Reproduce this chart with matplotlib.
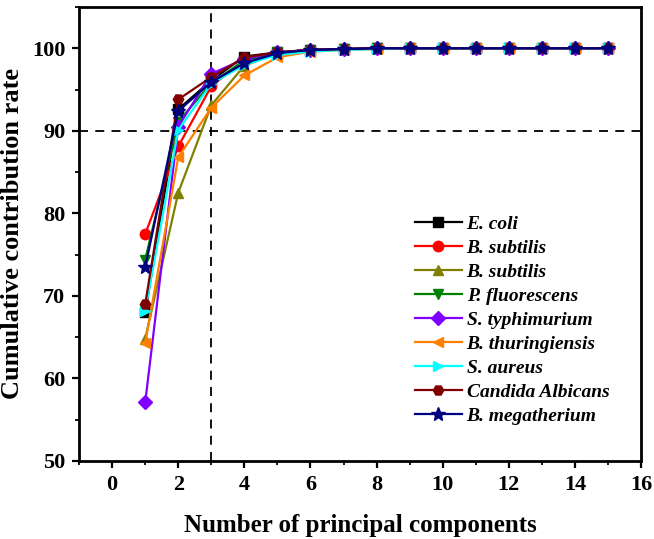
import matplotlib
matplotlib.use("Agg")
import matplotlib.pyplot as plt
from matplotlib.ticker import MultipleLocator

components = list(range(1, 16))
labels = ["E. coli", "B. subtilis", "B. subtilis", "P. fluorescens", "S. typhimurium",
          "B. thuringiensis", "S. aureus", "Candida Albicans", "B. megatherium"]
colors = ["#000000", "#FF0000", "#808000", "#008000", "#8000FF",
          "#FF8000", "#00FFFF", "#800000", "#000080"]
markers = ["s", "o", "^", "v", "D", "<", ">", "H", "*"]

e_coli = [68.0, 92.6, 96.1, 99.0, 99.5, 99.8, 99.9, 100, 100, 100, 100, 100, 100, 100, 100]
b_subtilis1 = [77.5, 88.1, 95.4, 98.6, 99.5, 99.8, 99.9, 100, 100, 100, 100, 100, 100, 100, 100]
b_subtilis2 = [64.8, 82.5, 93.1, 97.9, 99.4, 99.8, 99.9, 100, 100, 100, 100, 100, 100, 100, 100]
p_fluorescens = [74.4, 91.1, 95.8, 98.5, 99.5, 99.8, 99.9, 100, 100, 100, 100, 100, 100, 100, 100]
s_typhimurium = [57.1, 90.5, 96.9, 98.7, 99.5, 99.8, 99.9, 100, 100, 100, 100, 100, 100, 100, 100]
b_thuringiensis = [64.3, 86.8, 92.8, 96.7, 98.9, 99.6, 99.8, 99.9, 100, 100, 100, 100, 100, 100, 100]
s_aureus = [68.2, 90.1, 95.7, 98.0, 99.2, 99.6, 99.8, 99.9, 100, 100, 100, 100, 100, 100, 100]
candida = [69.0, 93.8, 96.5, 98.9, 99.5, 99.8, 99.9, 100, 100, 100, 100, 100, 100, 100, 100]
b_megatherium = [73.5, 92.4, 95.9, 98.2, 99.4, 99.8, 99.9, 100, 100, 100, 100, 100, 100, 100, 100]
series = [e_coli, b_subtilis1, b_subtilis2, p_fluorescens, s_typhimurium,
          b_thuringiensis, s_aureus, candida, b_megatherium]

plt.rcParams['font.family'] = ['Liberation Serif', 'DejaVu Serif']
plt.rcParams['font.weight'] = 'bold'

fig = plt.figure(figsize=(6.54, 5.39), dpi=100)
ax = fig.add_axes([0.121, 0.145, 0.859, 0.842])

for ys, lab, c, m in zip(series, labels, colors, markers):
    ms = 10 if m == "*" else 7.5
    ax.plot(components, ys, color=c, marker=m, markersize=ms, linewidth=1.6,
            markeredgecolor=c, label=lab)

ax.axhline(90, color="black", linestyle=(0, (5, 4)), linewidth=1.3, zorder=0)
ax.axvline(3, color="black", linestyle=(0, (5, 4)), linewidth=1.3, zorder=0)

ax.set_xlim(-1, 16)
ax.set_ylim(50, 105)
ax.xaxis.set_major_locator(MultipleLocator(2))
ax.xaxis.set_minor_locator(MultipleLocator(1))
ax.yaxis.set_major_locator(MultipleLocator(10))
ax.yaxis.set_minor_locator(MultipleLocator(5))
ax.tick_params(which="major", direction="out", length=5, width=1.6, labelsize=16, pad=5)
ax.tick_params(which="minor", direction="out", length=3, width=1.3)
for lab in ax.get_xticklabels() + ax.get_yticklabels():
    lab.set_fontweight("bold")
for s in ax.spines.values():
    s.set_linewidth(2)

ax.set_xlabel("Number of principal components", fontsize=18, fontweight="bold", labelpad=14)
ax.set_ylabel("Cumulative contribution rate", fontsize=19, fontweight="bold", labelpad=6)

leg = ax.legend(loc="lower right", bbox_to_anchor=(0.975, 0.04), frameon=False,
                prop={"family": "Liberation Serif", "weight": "bold", "style": "italic", "size": 14},
                handlelength=2.4, handletextpad=0.25, labelspacing=0.33, borderaxespad=0.5)

fig.savefig("out.png", dpi=100)
